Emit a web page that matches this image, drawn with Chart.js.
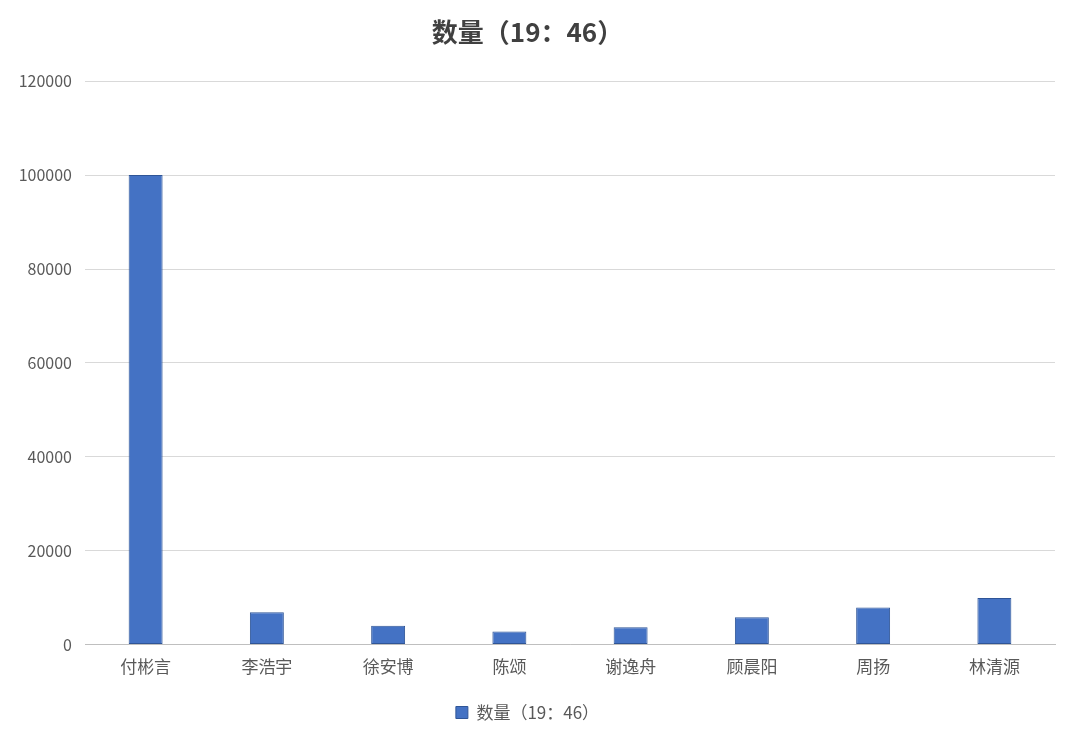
<!DOCTYPE html>
<html>
<head>
<meta charset="utf-8">
<script src="https://cdn.jsdelivr.net/npm/chart.js@4"></script>
<style>
  html, body { margin:0; padding:0; background:#fff; }
  #wrap { width:1080px; height:737px; }
</style>
</head>
<body>
<div id="wrap"><canvas id="chart" width="1080" height="737"></canvas></div>
<script>
// dados
const categories = ['付彬言','李浩宇','徐安博','陈颂','谢逸舟','顾晨阳','周扬','林清源'];
const counts = [100000, 6900, 4000, 2800, 3700, 5800, 7900, 9900];
const seriesName = '数量（19：46）';
const yTicks = [0, 20000, 40000, 60000, 80000, 100000, 120000];

const FONT = '"Noto Sans CJK SC", "Noto Sans", sans-serif';

new Chart(document.getElementById('chart'), {
  type: 'bar',
  data: {
    labels: categories,
    datasets: [{
      label: seriesName,
      data: counts,
      backgroundColor: '#4472C4',
      borderColor: '#2F5597',
      borderWidth: 1,
      borderSkipped: false,
      categoryPercentage: 1,
      barPercentage: 0.28
    }]
  },
  options: {
    responsive: false,
    animation: false,
    layout: { padding: { left: 0, right: 25, top: 0, bottom: 6 } },
    scales: {
      x: {
        grid: { display: false, drawTicks: false },
        border: { display: true, color: '#bfbfbf', width: 1 },
        ticks: { color: '#595959', padding: 12, font: { family: FONT, size: 17 } }
      },
      y: {
        min: yTicks[0],
        max: yTicks[yTicks.length - 1],
        afterBuildTicks: s => { s.ticks = yTicks.map(v => ({ value: v })); },
        afterFit: s => { s.width = 85; },
        grid: { color: '#d9d9d9', drawTicks: false },
        border: { display: false },
        ticks: {
          color: '#595959', padding: 13,
          font: { family: FONT, size: 16 },
          callback: v => String(v)
        }
      }
    },
    plugins: {
      title: {
        display: true,
        text: seriesName,
        color: '#404040',
        font: { family: FONT, size: 26, weight: 'bold' },
        padding: { top: 17, bottom: 33 }
      },
      legend: {
        position: 'bottom',
        labels: {
          color: '#595959',
          boxWidth: 12,
          boxHeight: 12,
          padding: 15,
          font: { family: FONT, size: 17 }
        }
      },
      tooltip: { enabled: false }
    }
  }
});
</script>
</body>
</html>
